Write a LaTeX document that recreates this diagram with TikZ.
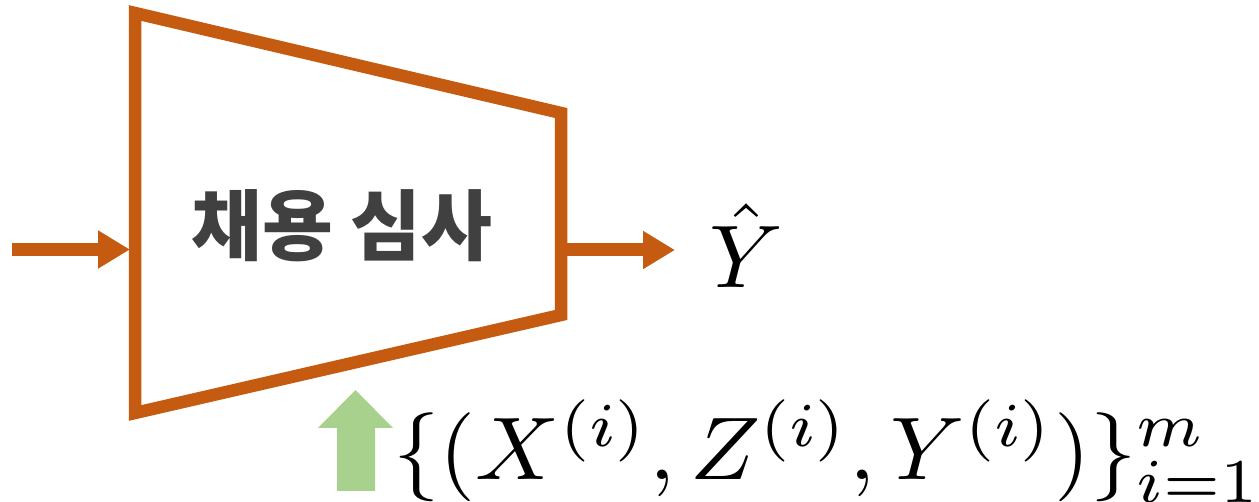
\documentclass[tikz,border=0pt]{standalone}
\usepackage{fontspec}
\usepackage{graphicx}
\usetikzlibrary{arrows.meta}
\newfontfamily\kofont{Noto Sans CJK KR Black}
\definecolor{orng}{HTML}{C55A11}
\definecolor{txtgray}{HTML}{404040}
\definecolor{lgreen}{HTML}{A9D18E}
\tikzset{
  flow/.style={draw=orng, line width=13pt, -{Triangle[length=32pt,width=36pt]}},
  boxline/.style={draw=orng, line width=12.5pt, line join=miter},
  mathlabel/.style={inner sep=0pt, font=\fontsize{10}{12}\selectfont},
}
\begin{document}
\begin{tikzpicture}[x=1pt,y=-1pt]
\useasboundingbox (0,0) rectangle (1259,502);
% trapezoid
\coordinate (tl) at (135,13);
\coordinate (tr) at (561,113);
\coordinate (br) at (561,315);
\coordinate (bl) at (135,413);
\draw[boxline] (tl) -- (tr) -- (br) -- (bl) -- cycle;
\node[inner sep=0pt, text=txtgray] (lbl) at (342,226) {\kofont\fontsize{77}{80}\selectfont 채용 심사};
% input arrow
\coordinate (in) at (12,249.5);
\coordinate (inend) at (130,249.5);
\draw[flow] (in) -- (inend);
% output arrow
\coordinate (outstart) at (561,250);
\coordinate (outend) at (675,250);
\draw[flow] (outstart) -- (outend);
\node[mathlabel, anchor=base west] (yhat) at (709,288) {\scalebox{9.2}[8.9]{$\hat{Y}$}};
% green arrow
\fill[lgreen] (337,491) -- (337,428) -- (318,428) -- (355.5,390) -- (393,428) -- (375,428) -- (375,491) -- cycle;
\node[mathlabel, anchor=base west] (data) at (393,479) {\scalebox{9.29}[8.9]{$\{(X^{(i)},Z^{(i)},Y^{(i)})\}_{i=1}^m$}};
\end{tikzpicture}
\end{document}
